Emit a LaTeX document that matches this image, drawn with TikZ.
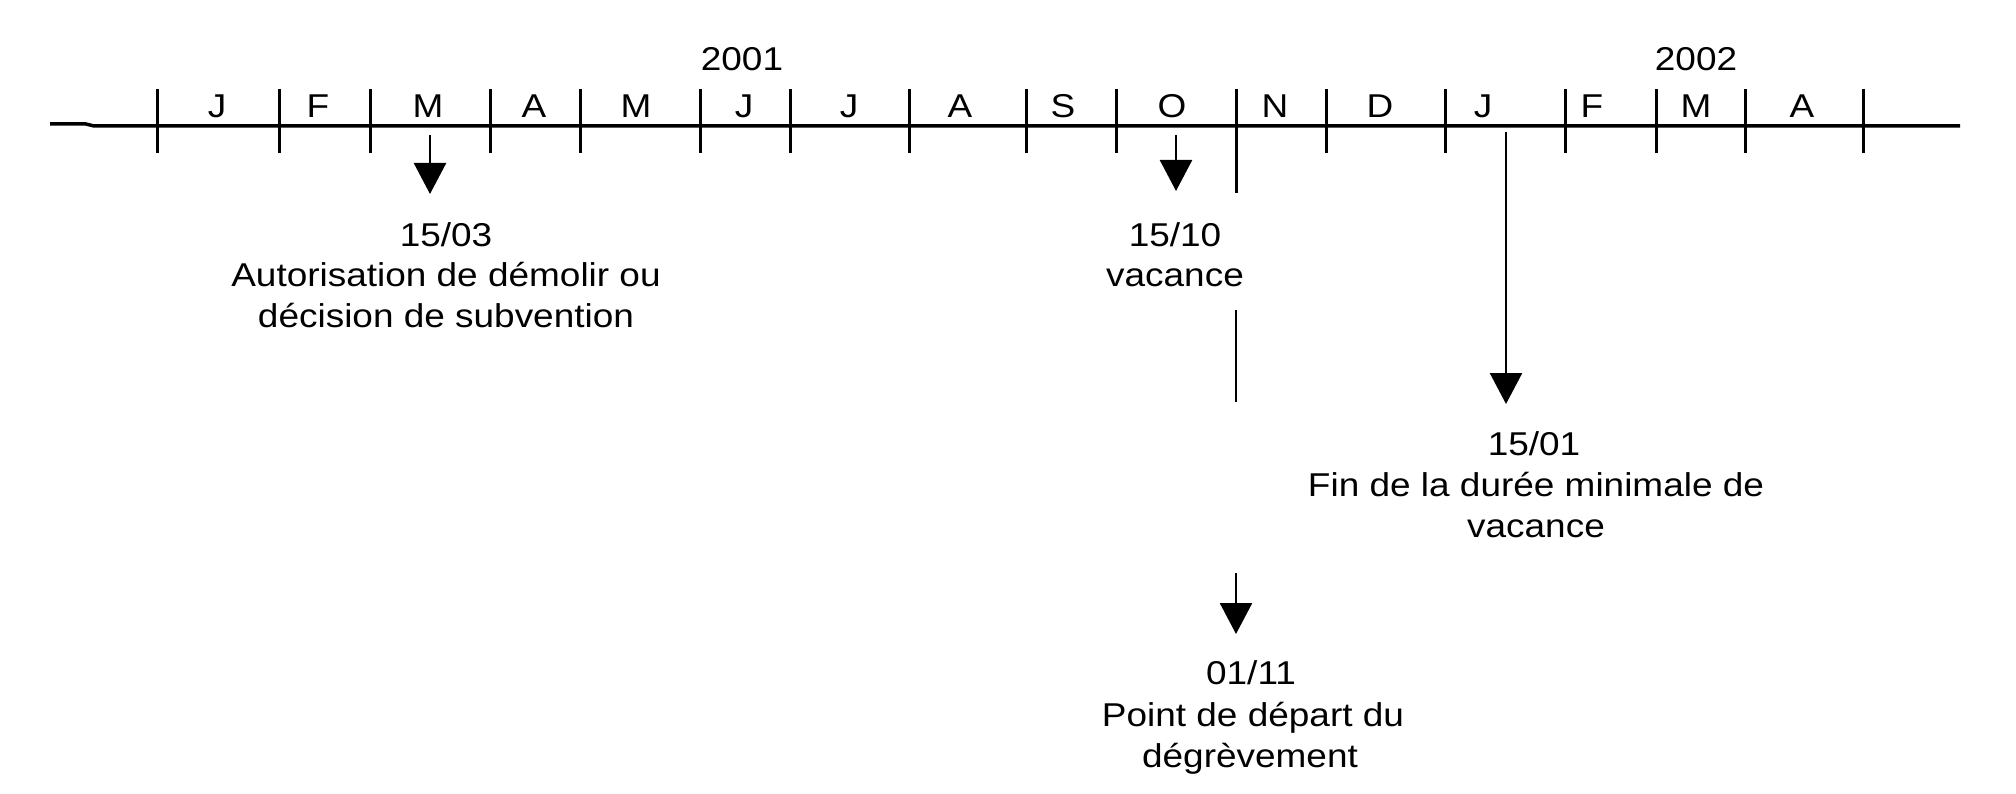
\documentclass[tikz,border=0pt]{standalone}
\usepackage{fontspec}
\setmainfont{Liberation Sans}[FakeStretch=1.12]
\usetikzlibrary{arrows.meta}
\begin{document}
\begin{tikzpicture}[x=1pt,y=-1pt,
  lbl/.style={font=\fontsize{33}{41}\selectfont, anchor=base, inner sep=0pt},
  axisln/.style={line width=3.5pt},
  tickln/.style={line width=3pt},
  evarrow/.style={line width=2.5pt,-{Triangle[length=31pt,width=32pt]}},
  segln/.style={line width=2.5pt}]
\useasboundingbox (0,0) rectangle (2016,794);
\fill[white] (0,0) rectangle (2016,794);
% axis
\coordinate (axL) at (50,124);
\coordinate (axR) at (1960,126);
\draw[axisln] (axL) -- (86,124) -- (94,126) -- (axR);
% ticks
\foreach \x [count=\i] in {157,279,370,490,580,700,790,909,1026,1116,1236,1326,1445,1565,1656,1745,1863}{
  \coordinate (tt\i) at (\x,89);
  \coordinate (tb\i) at (\x,153);
}
\foreach \i in {1,...,10,12,13,14,15,16,17}{\draw[tickln] (tt\i) -- (tb\i);}
\coordinate (tl11) at (1236,193);
\draw[tickln] (tt11) -- (tl11);
% month letters
\foreach \x/\m [count=\i] in {217/J,318/F,428/M,534/A,636/M,744/J,849/J,960/A,1063/S,1172/O,1275/N,1380/D,1483/J,1592/F,1696/M,1802/A}{
  \node[lbl] (m\i) at (\x,118) {\m};
}
% years
\node[lbl] (y2001) at (742,71) {2001};
\node[lbl] (y2002) at (1696,71) {2002};
% event 15/03
\coordinate (a1s) at (430,135);
\coordinate (a1e) at (430,194);
\draw[evarrow] (a1s) -- (a1e);
\node[lbl] (d1) at (446,247) {15/03};
\node[lbl] (d1a) at (446,287) {Autorisation de démolir ou};
\node[lbl] (d1b) at (446,327) {décision de subvention};
% event 15/10
\coordinate (a2s) at (1176,135);
\coordinate (a2e) at (1176,191);
\draw[evarrow] (a2s) -- (a2e);
\node[lbl] (d2) at (1175,247) {15/10};
\node[lbl] (d2a) at (1175,287) {vacance};
% 01/11 continuation of the November tick
\coordinate (s1a) at (1236,310);
\coordinate (s1b) at (1236,402);
\draw[segln] (s1a) -- (s1b);
\coordinate (a3s) at (1236,573);
\coordinate (a3e) at (1236,634);
\draw[evarrow] (a3s) -- (a3e);
\node[lbl] (d3) at (1251,684) {01/11};
\node[lbl] (d3a) at (1253,726) {Point de départ du};
\node[lbl] (d3b) at (1250,767) {dégrèvement};
% event 15/01
\coordinate (a4s) at (1506,132);
\coordinate (a4e) at (1506,404);
\draw[evarrow] (a4s) -- (a4e);
\node[lbl] (d4) at (1534,455) {15/01};
\node[lbl] (d4a) at (1536,496) {Fin de la durée minimale de};
\node[lbl] (d4b) at (1536,537) {vacance};
\end{tikzpicture}
\end{document}
